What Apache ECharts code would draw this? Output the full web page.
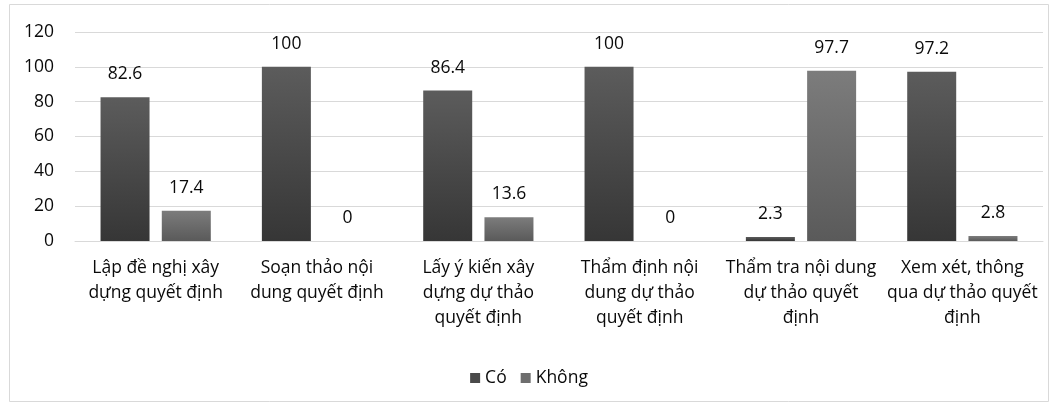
<!DOCTYPE html>
<html><head><meta charset="utf-8">
<script src="https://cdn.jsdelivr.net/npm/echarts@6/dist/echarts.min.js"></script>
<style>html,body{margin:0;padding:0;background:#fff}#c{width:1058px;height:408px}</style>
</head><body><div id="c"></div>
<script>
const categories = [
  'Lập đề nghị xây\ndựng quyết định',
  'Soạn thảo nội\ndung quyết định',
  'Lấy ý kiến xây\ndựng dự thảo\nquyết định',
  'Thẩm định nội\ndung dự thảo\nquyết định',
  'Thẩm tra nội dung\ndự thảo quyết\nđịnh',
  'Xem xét, thông\nqua dự thảo quyết\nđịnh'
];
const seriesNames = ['Có', 'Không'];
const coValues = [82.6, 100, 86.4, 100, 2.3, 97.2];
const khongValues = [17.4, 0, 13.6, 0, 97.7, 2.8];
const yTicks = [0, 20, 40, 60, 80, 100, 120];

const font = 'Open Sans';
const fs = 17.5;
function grad(top, bottom){
  return new echarts.graphic.LinearGradient(0,0,0,1,[{offset:0,color:top},{offset:1,color:bottom}]);
}
const chart = echarts.init(document.getElementById('c'), null, {renderer:'canvas'});
chart.setOption({
  animation:false,
  backgroundColor:'#fff',
  graphic:[{type:'rect',shape:{x:9.5,y:4.5,width:1039,height:397},style:{fill:'none',stroke:'#d9d9d9',lineWidth:1},silent:true}],
  grid:{left:75,right:15,top:32,bottom:167},
  legend:{bottom:16,left:'center',itemWidth:10,itemHeight:10,itemGap:14,icon:'rect',
    textStyle:{fontFamily:font,fontSize:fs,color:'#0a0a0a'},
    data:[{name:seriesNames[0],itemStyle:{color:'#4a4a4a'}},{name:seriesNames[1],itemStyle:{color:'#6e6e6e'}}]},
  xAxis:{type:'category',data:categories,
    axisLine:{lineStyle:{color:'#d9d9d9',width:1}},axisTick:{show:false},
    axisLabel:{interval:0,margin:15,lineHeight:25,fontFamily:font,fontSize:fs,color:'#0a0a0a'}},
  yAxis:{type:'value',min:yTicks[0],max:yTicks[yTicks.length-1],interval:20,
    axisLine:{show:false},axisTick:{show:false},
    splitLine:{lineStyle:{color:'#d9d9d9',width:1}},
    axisLabel:{margin:21,fontFamily:font,fontSize:fs,color:'#0a0a0a'}},
  series:[
    {name:seriesNames[0],type:'bar',data:coValues,barWidth:49,barGap:'25%',
      itemStyle:{color:grad('#5c5c5c','#363636')},
      label:{show:true,position:'top',distance:14,fontFamily:font,fontSize:fs,color:'#0a0a0a'}},
    {name:seriesNames[1],type:'bar',data:khongValues,barWidth:49,
      itemStyle:{color:grad('#7c7c7c','#5a5a5a')},
      label:{show:true,position:'top',distance:14,fontFamily:font,fontSize:fs,color:'#0a0a0a'}}
  ]
});
</script></body></html>
